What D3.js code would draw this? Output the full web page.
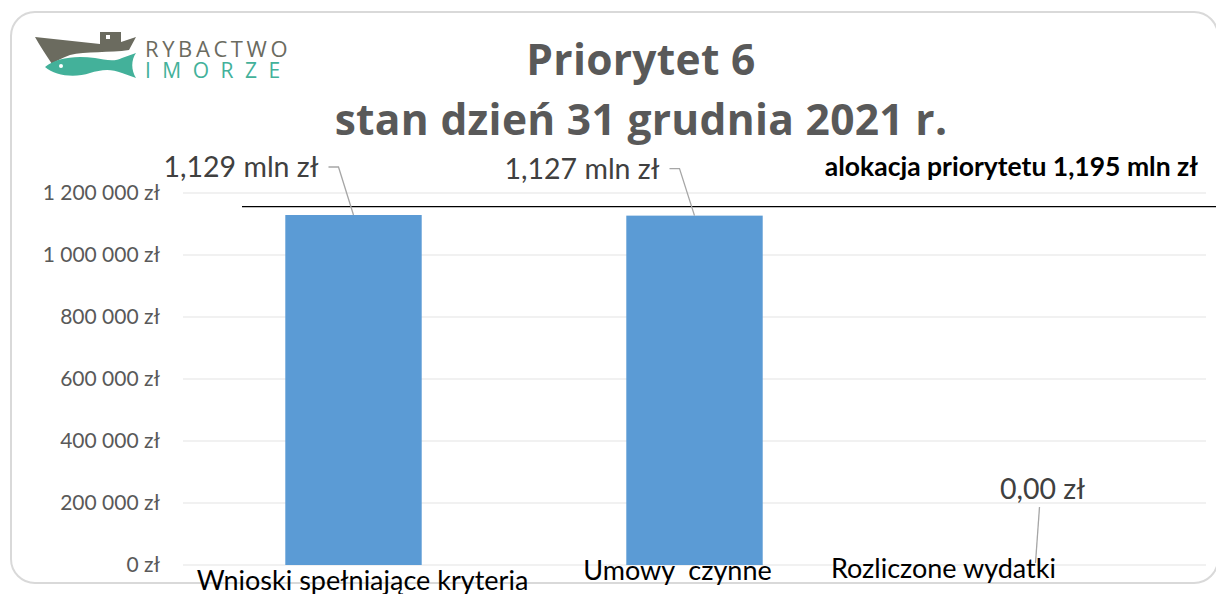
<!DOCTYPE html>
<html>
<head>
<meta charset="utf-8">
<script src="https://cdn.jsdelivr.net/npm/d3@7"></script>
<style>
body { margin: 0; background: #fff; }
svg { display: block; }
</style>
</head>
<body>
<svg width="1216" height="594"></svg>
<script>
// data
var categories = ["Wnioski spełniające kryteria", "Umowy  czynne", "Rozliczone wydatki"];
var values = [1129000, 1127000, 0];
var valueLabels = ["1,129 mln zł", "1,127 mln zł", "0,00 zł"];
var yTicks = [0, 200000, 400000, 600000, 800000, 1000000, 1200000];
var allocation = 1195000;
var allocationLabel = "alokacja priorytetu 1,195 mln zł";
var titleLines = ["Priorytet 6", "stan dzień 31 grudnia 2021 r."];

var svg = d3.select("svg"),
	width = +svg.attr("width"),
	height = +svg.attr("height"),
	margin = {top: 193, right: 10, bottom: 29, left: 183};

// card border
svg.append("rect")
	.attr("x", 11).attr("y", 12)
	.attr("width", 1207).attr("height", 571)
	.attr("rx", 24)
	.attr("fill", "#fff")
	.attr("stroke", "#d9d9d9")
	.attr("stroke-width", 2);

var x = d3.scaleBand()
	.domain(categories)
	.range([margin.left, width - margin.right])
	.paddingInner(0.6)
	.paddingOuter(0.3);

var y = d3.scaleLinear()
	.domain([0, 1200000])
	.range([height - margin.bottom, margin.top]);

// gridlines
svg.append("g")
	.selectAll("line")
	.data(yTicks)
	.enter()
	.append("line")
	.attr("x1", margin.left)
	.attr("x2", width - margin.right)
	.attr("y1", function (d) { return y(d); })
	.attr("y2", function (d) { return y(d); })
	.attr("stroke", "#ececec")
	.attr("stroke-width", 1.5);

// y axis labels
var fmt = function (d) {
	return d3.format(",")(d).replace(/,/g, " ") + " zł";
};
var yAxis = d3.axisLeft(y).tickValues(yTicks).tickFormat(fmt).tickSize(0).tickPadding(23);
var ya = svg.append("g")
	.attr("transform", "translate(" + margin.left + ",0)")
	.call(yAxis);
ya.select(".domain").remove();
ya.selectAll("text")
	.attr("fill", "#595959")
	.style("font-family", "Lato, 'Open Sans', sans-serif")
	.style("font-size", "21px");

// bars
svg.append("g")
	.selectAll("rect")
	.data(values)
	.enter()
	.append("rect")
	.attr("x", function (d, i) { return x(categories[i]); })
	.attr("y", function (d) { return y(d); })
	.attr("width", x.bandwidth())
	.attr("height", function (d) { return y(0) - y(d); })
	.attr("fill", "#5b9bd5");

// allocation line (the drawn line in the original sits a little below the value)
svg.append("line")
	.attr("x1", 242)
	.attr("x2", width)
	.attr("y1", y(allocation) + 12)
	.attr("y2", y(allocation) + 12)
	.attr("stroke", "#000")
	.attr("stroke-width", 1.3);

svg.append("text")
	.attr("x", 1198)
	.attr("y", y(allocation) - 19)
	.attr("text-anchor", "end")
	.style("font-family", "Lato, 'Open Sans', sans-serif")
	.style("font-weight", "bold")
	.style("font-size", "26.5px")
	.attr("fill", "#000")
	.text(allocationLabel);

// data labels with leader lines
var labelPos = [
	{dx: -35, dy: -48},
	{dx: -35, dy: -47},
	{dx: 4, dy: -76}
];
var lbl = svg.append("g")
	.selectAll("g")
	.data(values)
	.enter()
	.append("g");

lbl.append("path")
	.attr("fill", "none")
	.attr("stroke", "#a6a6a6")
	.attr("stroke-width", 1.3)
	.attr("d", function (d, i) {
		var cx = x(categories[i]) + x.bandwidth() / 2,
			cy = y(d),
			p = labelPos[i];
		if (i < 2) {
			return "M" + (cx + p.dx + 10) + "," + (cy + p.dy) +
				"H" + (cx + p.dx + 20) + "L" + cx + "," + cy;
		}
		return "M" + (cx + p.dx) + "," + (cy + p.dy + 18) + "L" + cx + "," + (cy - 2);
	});

lbl.append("text")
	.attr("x", function (d, i) {
		var cx = x(categories[i]) + x.bandwidth() / 2;
		return i < 2 ? cx + labelPos[i].dx : cx + labelPos[i].dx + 3;
	})
	.attr("y", function (d, i) { return y(d) + labelPos[i].dy + 10; })
	.attr("text-anchor", function (d, i) { return i < 2 ? "end" : "middle"; })
	.style("font-family", "Lato, 'Open Sans', sans-serif")
	.style("font-size", "28.5px")
	.attr("fill", "#404040")
	.text(function (d, i) { return valueLabels[i]; });

// category labels
var catDx = [9, -17, -92],
	catDy = [25, 15, 13];
svg.append("g")
	.selectAll("text")
	.data(categories)
	.enter()
	.append("text")
	.attr("x", function (d, i) { return x(d) + x.bandwidth() / 2 + catDx[i]; })
	.attr("y", function (d, i) { return y(0) + catDy[i]; })
	.attr("text-anchor", "middle")
	.style("white-space", "pre")
	.style("font-family", "Lato, 'Open Sans', sans-serif")
	.style("font-size", "27px")
	.attr("fill", "#000")
	.text(function (d) { return d; });

// title
svg.append("g")
	.selectAll("text")
	.data(titleLines)
	.enter()
	.append("text")
	.attr("x", 641)
	.attr("y", function (d, i) { return 75 + i * 60; })
	.attr("text-anchor", "middle")
	.style("font-family", "'Open Sans', sans-serif")
	.style("font-weight", "bold")
	.style("font-size", "42.5px")
	.style("letter-spacing", "0.3px")
	.attr("fill", "#595959")
	.text(function (d) { return d; });

// logo
var logo = svg.append("g");
logo.append("path")
	.attr("fill", "#6b6b5f")
	.attr("d", "M35,37 L100,44 L100,32 L121,32 L121,42 L136,37 L129,50 C110,53 85,51 70,55 C62,58 56,61 52,64 C46,55 40,46 35,37 Z");
logo.append("rect").attr("x", 106).attr("y", 35).attr("width", 4).attr("height", 4).attr("fill", "#fff");
logo.append("path")
	.attr("fill", "#43b19a")
	.attr("d", "M45,67 C55,58 75,55 95,58 C105,60 115,62 122,58 L136,53 C131,60 131,70 136,78 L122,73 C110,68 100,70 90,73 C75,78 55,76 45,67 Z");
logo.append("circle").attr("cx", 61).attr("cy", 66).attr("r", 2).attr("fill", "#fff");
logo.append("text")
	.attr("x", 145).attr("y", 57)
	.style("font-family", "'Open Sans', sans-serif")
	.style("font-size", "22px")
	.style("letter-spacing", "3.6px")
	.attr("fill", "#6b6b5f")
	.text("RYBACTWO");
logo.append("text")
	.attr("x", 145).attr("y", 78)
	.style("font-family", "'Open Sans', sans-serif")
	.style("font-size", "21px")
	.style("letter-spacing", "11.5px")
	.attr("fill", "#43b19a")
	.text("IMORZE");
</script>
</body>
</html>
